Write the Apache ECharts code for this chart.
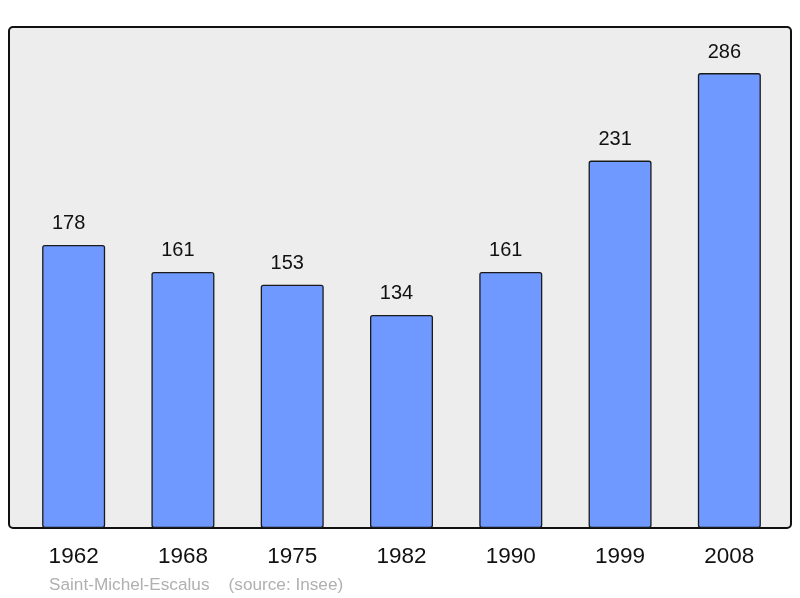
<!DOCTYPE html>
<html><head><meta charset="utf-8">
<script src="https://cdn.jsdelivr.net/npm/echarts@6/dist/echarts.min.js"></script>
<style>html,body{margin:0;padding:0;background:#fff}#c{width:800px;height:598px}</style>
</head><body><div id="c"></div>
<script>
const categories = ['1962','1968','1975','1982','1990','1999','2008'];
const population = [178,161,153,134,161,231,286];
const footer = 'Saint-Michel-Escalus    (source: Insee)';

const chart = echarts.init(document.getElementById('c'));
chart.setOption({
  animation: false,
  backgroundColor: '#ffffff',
  graphic: [
    { type: 'rect', z: -10, shape: { x: 9, y: 27, width: 782, height: 501, r: 4 },
      style: { fill: '#ededed', stroke: '#111', lineWidth: 2 } },
    { type: 'text', left: 49, top: 577, style: { text: footer, fill: '#b0b0b0', font: '17.2px "Liberation Sans", Arial, sans-serif' } }
  ],
  grid: { left: 19, width: 765, top: 27, height: 501 },
  xAxis: {
    type: 'category', data: categories,
    axisLine: { show: false }, axisTick: { show: false },
    axisLabel: { color: '#111', fontSize: 22.5, fontFamily: '"Liberation Sans", Arial, sans-serif', margin: 17 }
  },
  yAxis: { type: 'value', min: 0, max: 315, show: false, splitLine: { show: false } },
  series: [{
    type: 'bar', data: population, barWidth: 63,
    itemStyle: { color: '#7099ff', borderColor: '#1a1a1a', borderWidth: 1.3, borderRadius: 2 },
    label: { show: true, position: 'top', distance: 11, offset: [-5, 0], color: '#111', fontSize: 20, fontFamily: '"Liberation Sans", Arial, sans-serif' }
  }]
});
</script></body></html>
